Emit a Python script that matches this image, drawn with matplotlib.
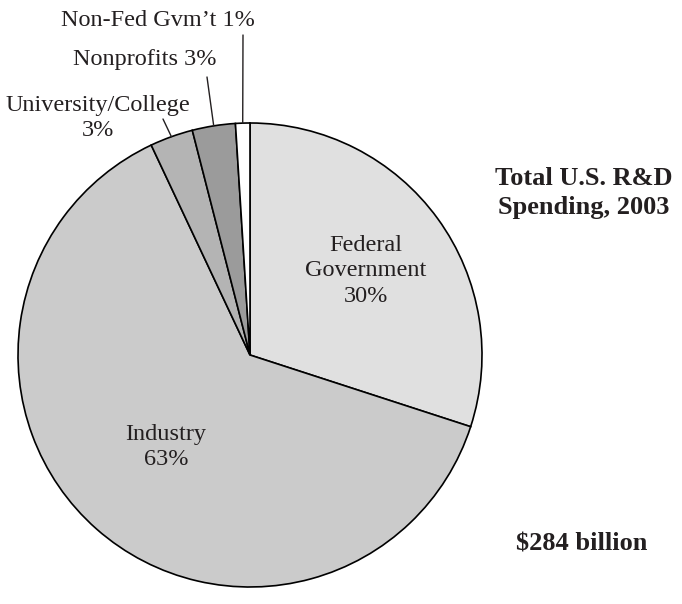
import numpy as np
import matplotlib
matplotlib.use("Agg")
import matplotlib.pyplot as plt

# Total U.S. R&D spending by source, 2003
sources = ["Federal\nGovernment", "Industry", "University/College", "Nonprofits", "Non-Fed Gvm\u2019t"]
shares = [30, 63, 3, 3, 1]
colors = ["#e0e0e0", "#cbcbcb", "#b4b4b4", "#9b9b9b", "#ffffff"]

W, H = 682, 604
plt.rcParams['font.family'] = ['Liberation Serif', 'DejaVu Serif']
ink = '#231f20'

fig = plt.figure(figsize=(W / 100, H / 100), dpi=100)

# pie placed in pixel space: centre and radius
cx, cy, r = 250, 355, 232
ax = fig.add_axes([(cx - r) / W, 1 - (cy + r) / H, 2 * r / W, 2 * r / H])

wedges, _ = ax.pie(shares, colors=colors, startangle=90, counterclock=False, radius=1,
                   wedgeprops=dict(edgecolor='black', linewidth=1.2))
ax.set_xlim(-1, 1)
ax.set_ylim(-1, 1)
ax.axis('off')


def fp(x, y):
    # pixel coords (from top-left) -> figure fraction
    return x / W, 1 - y / H


txt = dict(fontsize=17.5, color=ink, ha='center', va='center', linespacing=1.3)

# inside labels
fig.text(*fp(366, 271), f"{sources[0]}\n{shares[0]}%", **txt)
fig.text(*fp(166, 447), f"{sources[1]}\n{shares[1]}%", **txt)

# outside labels with leader lines
outside = [
    (2, f"{sources[2]}\n{shares[2]}%", (98, 118), (163, 119)),
    (3, f"{sources[3]} {shares[3]}%", (145, 60), (207, 77)),
    (4, f"{sources[4]} {shares[4]}%", (158, 21), (243, 35)),
]
for i, label, tpos, lstart in outside:
    fig.text(*fp(*tpos), label, **txt)
    w = wedges[i]
    mid = np.deg2rad((w.theta1 + w.theta2) / 2)
    ax.annotate("", xy=(np.cos(mid), np.sin(mid)), xycoords='data',
                xytext=fp(*lstart), textcoords='figure fraction',
                arrowprops=dict(arrowstyle='-', color=ink, lw=1.0,
                                shrinkA=0, shrinkB=0))

fig.text(*fp(584, 193), "Total U.S. R&D\nSpending, 2003", fontsize=19, fontweight='bold',
         color=ink, ha='center', va='center', linespacing=1.35)
fig.text(*fp(582, 544), "$284 billion", fontsize=19, fontweight='bold',
         color=ink, ha='center', va='center')

fig.savefig("out.png", dpi=100)
